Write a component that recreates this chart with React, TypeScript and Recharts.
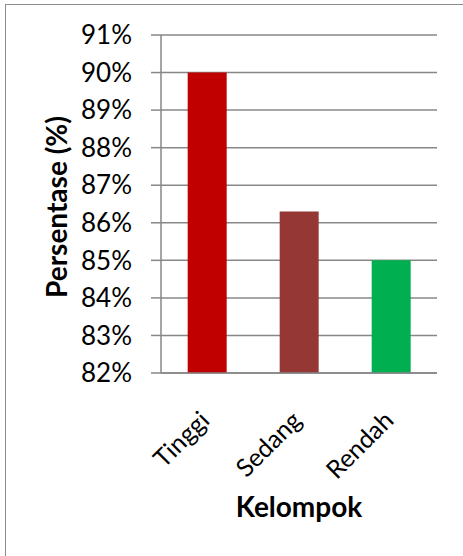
import React from "react";
import { BarChart, Bar, XAxis, YAxis, CartesianGrid, Cell, Label } from "recharts";

const categories = ["Tinggi", "Sedang", "Rendah"];
const values = [90, 86.3, 85];
const barColors = ["#C00000", "#953735", "#00B050"];
const yTicks = [82, 83, 84, 85, 86, 87, 88, 89, 90, 91];

const FONT = "Lato, 'Open Sans', sans-serif";
const AXIS_GRAY = "#878787";

const data = categories.map((name, i) => ({ name, value: values[i] }));

// rotated category labels, anchored at their end like Excel does
const CategoryTick = ({ x, y, payload }: any) => (
  <g transform={`translate(${x + 4},${y + 41})`}>
    <text
      x={0}
      y={0}
      transform="rotate(-45)"
      textAnchor="end"
      fontFamily={FONT}
      fontSize={25}
      fill="#000"
    >
      {payload.value}
    </text>
  </g>
);

export default function App() {
  return (
    <div
      style={{
        position: "absolute",
        left: 0,
        top: 0,
        width: 463,
        height: 556,
        overflow: "hidden",
        background: "#fff",
      }}
    >
      {/* chart frame (only top and left edges are inside the crop) */}
      <div
        style={{
          position: "absolute",
          left: 5,
          top: 4,
          width: 480,
          height: 580,
          borderLeft: "1px solid #8c8c8c",
          borderTop: "1px solid #8c8c8c",
        }}
      />
      <div style={{ position: "absolute", left: 0, top: 0 }}>
        <BarChart
          width={463}
          height={556}
          data={data}
          margin={{ top: 35, right: 26, bottom: 0, left: 0 }}
          barCategoryGap="29%"
        >
          <CartesianGrid
            vertical={false}
            stroke={AXIS_GRAY}
            strokeWidth={1.5}
          />
          <XAxis
            dataKey="name"
            axisLine={{ stroke: AXIS_GRAY, strokeWidth: 1.5 }}
            tickLine={false}
            interval={0}
            tick={<CategoryTick />}
            height={183}
          >
            <Label
              value="Kelompok"
              position="insideTop"
              offset={124}
              style={{
                fontFamily: FONT,
                fontWeight: 700,
                fontSize: 28,
                fill: "#000",
              }}
            />
          </XAxis>
          <YAxis
            width={161}
            domain={[82, 91]}
            ticks={yTicks}
            interval={0}
            allowDataOverflow
            tickFormatter={(v: number) => `${v}%`}
            axisLine={{ stroke: AXIS_GRAY, strokeWidth: 1.5 }}
            tickLine={{ stroke: AXIS_GRAY, strokeWidth: 1.5 }}
            tickSize={10}
            tickMargin={19}
            tick={{ fontFamily: FONT, fontSize: 26, fill: "#000" }}
          >
            <Label
              value="Persentase (%)"
              angle={-90}
              position="center"
              dx={-23}
              dy={3}
              style={{
                fontFamily: FONT,
                fontWeight: 700,
                fontSize: 28,
                fill: "#000",
                textAnchor: "middle",
              }}
            />
          </YAxis>
          <Bar dataKey="value" isAnimationActive={false}>
            {data.map((d, i) => (
              <Cell key={d.name} fill={barColors[i]} />
            ))}
          </Bar>
        </BarChart>
      </div>
    </div>
  );
}
